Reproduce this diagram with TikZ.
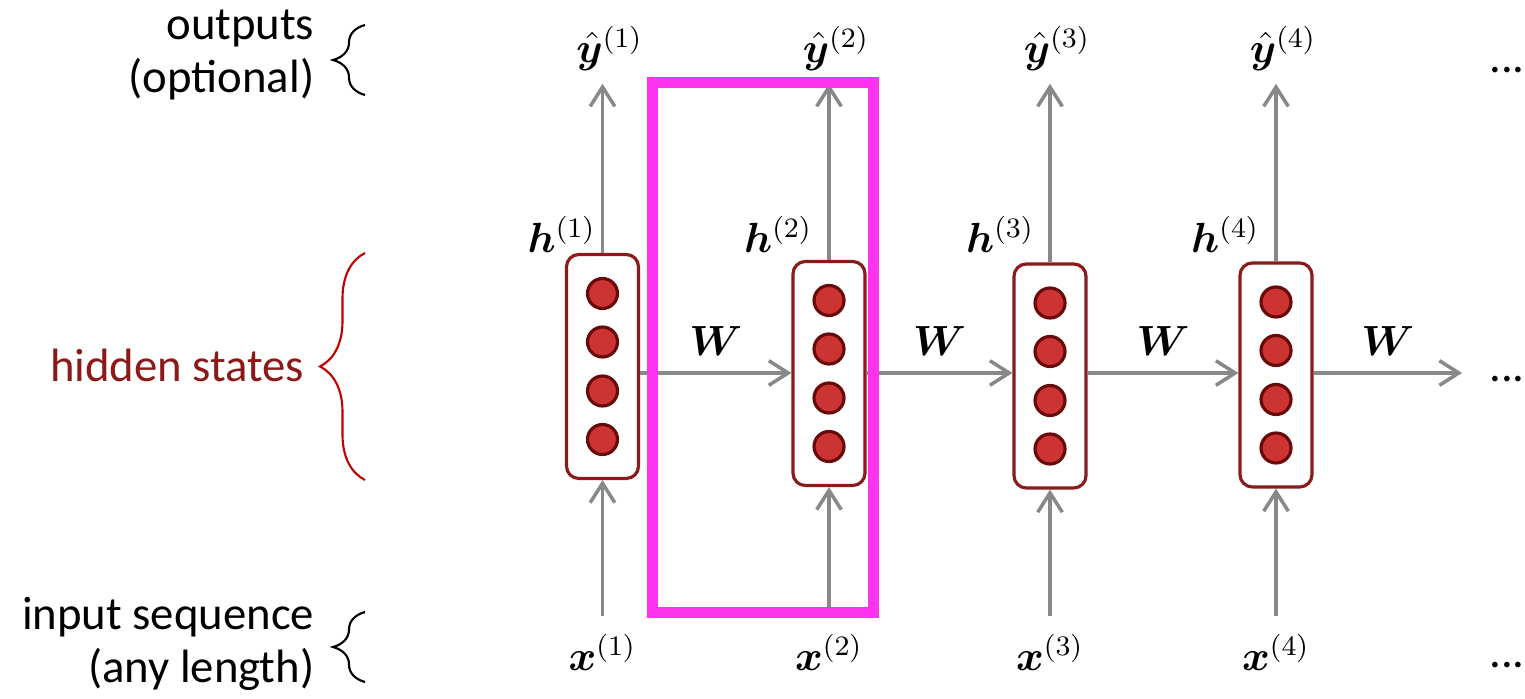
\documentclass[tikz,border=0pt]{standalone}
\usepackage{fontspec}
\setmainfont{Carlito}
\usepackage{bm}
\usetikzlibrary{arrows.meta,decorations.pathreplacing}
\definecolor{cellred}{RGB}{139,26,26}
\definecolor{unitred}{RGB}{204,51,51}
\definecolor{unitdark}{RGB}{105,10,10}
\definecolor{flowgray}{RGB}{136,136,136}
\definecolor{hilite}{RGB}{255,51,238}
\definecolor{labred}{RGB}{140,25,25}
\definecolor{bracered}{RGB}{192,0,0}

\begin{document}
\begin{tikzpicture}[
		>={Straight Barb[length=5.5pt,width=7pt]},
		cell/.style={rectangle, rounded corners=3.5pt, draw=cellred, line width=0.9pt, fill=white, minimum width=0.72cm, minimum height=2.24cm},
		unit/.style={circle, draw=unitdark, line width=0.9pt, fill=unitred, minimum size=0.3cm, inner sep=0pt},
		flow/.style={->, draw=flowgray, line width=1pt},
		lbl/.style={font=\fontsize{13.3}{15}\selectfont, inner sep=0pt},
		var/.style={font=\fontsize{12}{14}\selectfont, inner sep=0pt},
		wt/.style={var, above=4.5pt},
		brc/.style={decorate, decoration={brace, amplitude=#1}, line width=0.6pt},
		brc/.default=0.32cm
	]
	\useasboundingbox (0,0) rectangle (15.25,6.99);

	\coordinate (row) at (0,3.26);
	\coordinate (more) at (14.62,3.26);

	\foreach \i/\x/\y/\hx in {1/6.025/3.325/0.06, 2/8.29/3.255/0.16, 3/10.50/3.23/0.15, 4/12.76/3.24/0.16} {
		\node[cell] (h\i) at (\x,\y) {};
		\foreach \k/\d in {1/0.73, 2/0.245, 3/-0.245, 4/-0.73}
			\node[unit] (h\i-\k) at ([yshift=\d cm]h\i.center) {};
		\node[var, anchor=base east] (hl\i) at (\x-\hx,4.46) {$\bm{h}^{(\i)}$};
		\node[var] (y\i) at (\x+0.07,6.505) {$\hat{\bm{y}}^{(\i)}$};
		\node[var] (x\i) at (\x,0.465) {$\bm{x}^{(\i)}$};
		\draw[flow, shorten >=3.5pt] (h\i) -- (h\i |- y\i.south);
		\draw[flow, shorten <=5pt] (h\i |- x\i.north) -- (h\i);
	}

	\draw[flow] (h1.east |- row) -- node[wt] (w1) {$\bm{W}$} (h2.west |- row);
	\draw[flow] (h2.east |- row) -- node[wt] (w2) {$\bm{W}$} (h3.west |- row);
	\draw[flow] (h3.east |- row) -- node[wt] (w3) {$\bm{W}$} (h4.west |- row);
	\draw[flow] (h4.east |- row) -- node[wt] (w4) {$\bm{W}$} (more);

	\node[lbl] (dt1) at (15.07,6.29) {...};
	\node[lbl] (dt2) at (15.07,3.20) {...};
	\node[lbl] (dt3) at (15.07,0.34) {...};

	\node[lbl, align=right, anchor=east] (outl) at (3.15,6.44) {outputs\\(optional)};
	\node[lbl, anchor=base east, text=labred] (hidl) at (3.05,3.17) {hidden states};
	\node[lbl, align=right, anchor=east] (inl) at (3.15,0.55) {input sequence\\(any length)};

	\draw[brc] (3.65,6.04) -- (3.65,6.74);
	\draw[brc=0.45cm, draw=bracered] (3.65,2.19) -- (3.65,4.46);
	\draw[brc] (3.65,0.17) -- (3.65,0.87);

	\node[draw=hilite, line width=3.1pt, minimum width=2.21cm, minimum height=5.30cm, inner sep=0pt] (frame) at (7.63,3.515) {};
\end{tikzpicture}
\end{document}
